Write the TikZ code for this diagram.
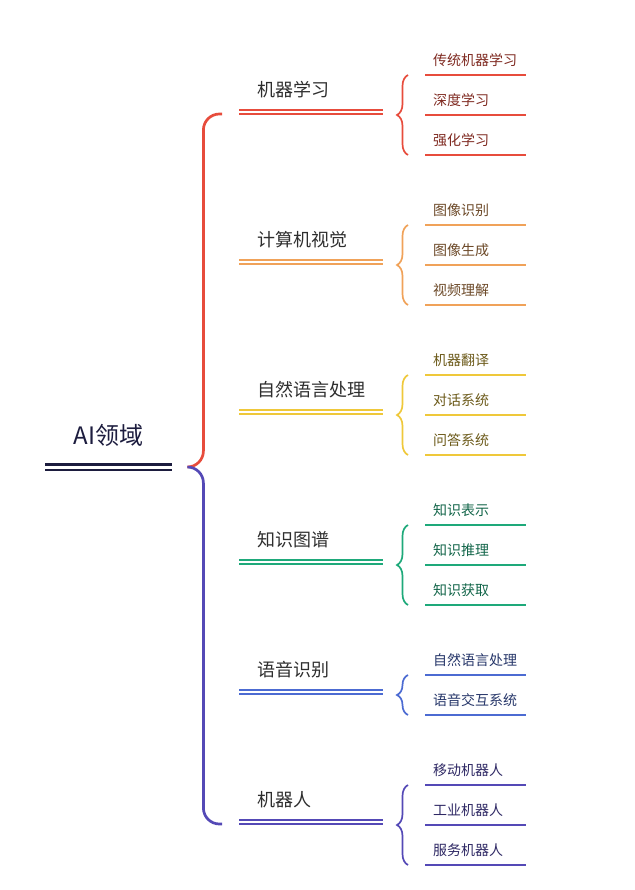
\documentclass[tikz,border=0pt]{standalone}
\usepackage{fontspec}
\setmainfont{Noto Sans CJK SC}
\usepackage{tikz}
\usetikzlibrary{calc,decorations.pathreplacing}
\usepackage{xcolor}
\definecolor{rootnavy}{HTML}{1C1C3E}
\definecolor{labgray}{HTML}{2E2E2E}
\definecolor{mlred}{HTML}{E74C3C}
\definecolor{cvorange}{HTML}{F0A259}
\definecolor{nlpyellow}{HTML}{EFC83A}
\definecolor{kggreen}{HTML}{1EA97A}
\definecolor{asrblue}{HTML}{4C6BD2}
\definecolor{robpurple}{HTML}{5449B6}

\begin{document}
\begin{tikzpicture}[x=1pt,y=-1pt,line cap=butt,
  root/.style={anchor=south west,font=\fontsize{24}{26}\selectfont,text width=127pt,inner sep=0pt,text depth=22pt,align=center,text=rootnavy},
  branch/.style={anchor=south west,font=\fontsize{18}{20}\selectfont,text width=108pt,inner xsep=18pt,inner ysep=0pt,text depth=15pt,align=left,text=labgray},
  leaf/.style={anchor=south west,font=\fontsize{14}{16}\selectfont,text width=85pt,inner xsep=8pt,inner ysep=0pt,text depth=9.5pt,align=left},
  dline/.style={double=white,double distance=2.6pt,line width=1.7pt},
  rootline/.style={double=white,double distance=3pt,line width=2.3pt,rootnavy},
  bigbrace/.style={line width=2.7pt,rounded corners=16pt},
  subbrace/.style={line width=1.7pt,decorate,decoration={brace,amplitude=11pt}},
  underline/.style={line width=2pt}]
\useasboundingbox (0,0) rectangle (634,890);

\node[root] (ai) at (45,467) {AI领域};
\draw[rootline] (ai.south west) -- (ai.south east);
\coordinate (hub) at ($(ai.south east)+(31,0)$);
\coordinate (aiend) at ($(ai.south east)+(15,0)$);

\node[branch] (ml) at (239,112) {机器学习};
\node[branch] (cv) at (239,262) {计算机视觉};
\node[branch] (nlp) at (239,412) {自然语言处理};
\node[branch] (kg) at (239,562) {知识图谱};
\node[branch] (asr) at (239,692) {语音识别};
\node[branch] (rob) at (239,822) {机器人};
\draw[dline,mlred] (ml.south west) -- (ml.south east);
\draw[dline,cvorange] (cv.south west) -- (cv.south east);
\draw[dline,nlpyellow] (nlp.south west) -- (nlp.south east);
\draw[dline,kggreen] (kg.south west) -- (kg.south east);
\draw[dline,asrblue] (asr.south west) -- (asr.south east);
\draw[dline,robpurple] (rob.south west) -- (rob.south east);

\draw[bigbrace,mlred] ($(ml.south west)+(-17,2)$) -| (hub) -- (aiend);
\draw[bigbrace,robpurple] (aiend) -- (hub) |- ($(rob.south west)+(-17,2)$);

\node[leaf,text=mlred!55!black] (ml1) at (425,75) {传统机器学习};
\node[leaf,text=mlred!55!black] (ml2) at (425,115) {深度学习};
\node[leaf,text=mlred!55!black] (ml3) at (425,155) {强化学习};
\node[leaf,text=cvorange!45!black] (cv1) at (425,225) {图像识别};
\node[leaf,text=cvorange!45!black] (cv2) at (425,265) {图像生成};
\node[leaf,text=cvorange!45!black] (cv3) at (425,305) {视频理解};
\node[leaf,text=nlpyellow!45!black] (nlp1) at (425,375) {机器翻译};
\node[leaf,text=nlpyellow!45!black] (nlp2) at (425,415) {对话系统};
\node[leaf,text=nlpyellow!45!black] (nlp3) at (425,455) {问答系统};
\node[leaf,text=kggreen!60!black] (kg1) at (425,525) {知识表示};
\node[leaf,text=kggreen!60!black] (kg2) at (425,565) {知识推理};
\node[leaf,text=kggreen!60!black] (kg3) at (425,605) {知识获取};
\node[leaf,text=asrblue!50!black] (asr1) at (425,675) {自然语言处理};
\node[leaf,text=asrblue!50!black] (asr2) at (425,715) {语音交互系统};
\node[leaf,text=robpurple!55!black] (rob1) at (425,785) {移动机器人};
\node[leaf,text=robpurple!55!black] (rob2) at (425,825) {工业机器人};
\node[leaf,text=robpurple!55!black] (rob3) at (425,865) {服务机器人};

\foreach \n/\c in {ml1/mlred,ml2/mlred,ml3/mlred,cv1/cvorange,cv2/cvorange,cv3/cvorange,
  nlp1/nlpyellow,nlp2/nlpyellow,nlp3/nlpyellow,kg1/kggreen,kg2/kggreen,kg3/kggreen,
  asr1/asrblue,asr2/asrblue,rob1/robpurple,rob2/robpurple,rob3/robpurple}
  \draw[underline,\c] (\n.south west) -- (\n.south east);

\draw[subbrace,mlred] ($(ml3.south west)+(-17,0)$) -- ($(ml1.south west)+(-17,0)$);
\draw[subbrace,cvorange] ($(cv3.south west)+(-17,0)$) -- ($(cv1.south west)+(-17,0)$);
\draw[subbrace,nlpyellow] ($(nlp3.south west)+(-17,0)$) -- ($(nlp1.south west)+(-17,0)$);
\draw[subbrace,kggreen] ($(kg3.south west)+(-17,0)$) -- ($(kg1.south west)+(-17,0)$);
\draw[subbrace,asrblue] ($(asr2.south west)+(-17,0)$) -- ($(asr1.south west)+(-17,0)$);
\draw[subbrace,robpurple] ($(rob3.south west)+(-17,0)$) -- ($(rob1.south west)+(-17,0)$);
\end{tikzpicture}
\end{document}
